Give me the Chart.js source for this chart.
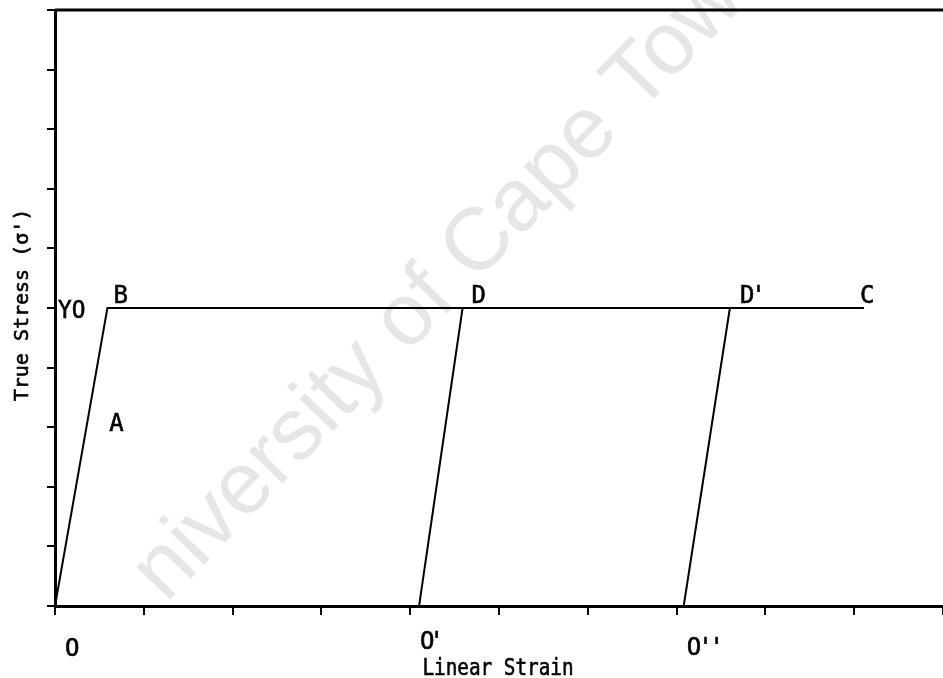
<!DOCTYPE html>
<html>
<head>
<meta charset="utf-8">
<script src="https://cdn.jsdelivr.net/npm/chart.js@4/dist/chart.umd.min.js"></script>
<style>
  html, body { margin: 0; padding: 0; background: #fff; }
  #wrap { width: 943px; height: 678px; }
</style>
</head>
<body>
<div id="wrap"><canvas id="c" width="943" height="678"></canvas></div>
<script>
// Elastic / perfectly-plastic stress–strain path with two elastic unloadings
const loadStrain = [0, 0.59, 9.11];
const loadStress = [0, 5, 5];
const unloadStrain1 = [4.10, 4.59];
const unloadStress1 = [0, 5];
const unloadStrain2 = [7.08, 7.60];
const unloadStress2 = [0, 5];

const strainRange = [0, 10];
const stressRange = [0, 10];

const xTitle = 'Linear Strain';
const yTitle = "True Stress (\u03C3')";
const yieldLabel = 'YO';
const pointNames = { elastic: 'A', yieldStart: 'B', end: 'C', top1: 'D', top2: "D'",
                     origin: 'O', base1: "O'", base2: "O''" };
const watermark = 'niversity of Cape Town';

const FONT = '"DejaVu Sans Mono", monospace';

function toPoints(xs, ys) { return xs.map((x, i) => ({ x: x, y: ys[i] })); }

const lineStyle = { borderColor: '#000', borderWidth: 2, pointRadius: 0, showLine: true, tension: 0, fill: false };

// plotter-style lettering: narrow monospace glyphs with a slight outline for weight
function letter(ctx, text, x, y, opts) {
  const o = Object.assign({ size: 24, squeeze: 1, align: 'left', rotate: 0, spacing: 0 }, opts || {});
  ctx.save();
  ctx.translate(x, y);
  if (o.rotate) ctx.rotate(o.rotate);
  ctx.scale(o.squeeze, 1);
  ctx.font = o.size + 'px ' + FONT;
  ctx.textAlign = o.align;
  ctx.textBaseline = 'alphabetic';
  ctx.letterSpacing = o.spacing + 'px';
  ctx.fillStyle = '#000';
  ctx.strokeStyle = '#000';
  ctx.lineWidth = 0.6;
  ctx.fillText(text, 0, 0);
  ctx.strokeText(text, 0, 0);
  ctx.restore();
}

// faint diagonal stamp behind the plot
const stampPlugin = {
  id: 'stamp',
  beforeDraw(chart) {
    const ctx = chart.ctx;
    ctx.save();
    ctx.translate(166, 604);
    ctx.rotate(-46 * Math.PI / 180);
    ctx.font = '88px "Liberation Sans", Arial, sans-serif';
    ctx.fillStyle = '#e6e6e6';
    ctx.textBaseline = 'alphabetic';
    ctx.fillText(watermark, 0, 0);
    ctx.restore();
  }
};

// top frame line, axis titles and point annotations
const annotatePlugin = {
  id: 'annotate',
  afterDraw(chart) {
    const ctx = chart.ctx;
    const xs = chart.scales.x, ys = chart.scales.y;
    const area = chart.chartArea;
    const px = v => xs.getPixelForValue(v);
    const py = v => ys.getPixelForValue(v);

    ctx.save();
    ctx.strokeStyle = '#000';
    ctx.lineWidth = 3;
    ctx.beginPath();
    ctx.moveTo(area.left, area.top);
    ctx.lineTo(chart.width, area.top);
    ctx.stroke();
    ctx.restore();

    // axis titles
    letter(ctx, xTitle, (area.left + area.right) / 2 - 1, area.bottom + 69, { size: 23, squeeze: 0.84, align: 'center' });
    letter(ctx, yTitle, 28, (area.top + area.bottom) / 2 - 3, { size: 20, align: 'center', rotate: -Math.PI / 2 });

    // point names
    const plateau = py(loadStress[1]);
    const base = py(0);
    letter(ctx, yieldLabel, area.left + 3, plateau + 10, { squeeze: 0.95 });
    letter(ctx, pointNames.yieldStart, px(loadStrain[1]) + 6, plateau - 5);
    letter(ctx, pointNames.top1, px(unloadStrain1[1]) + 9, plateau - 5);
    letter(ctx, pointNames.top2, px(unloadStrain2[1]) + 10, plateau - 5, { spacing: -3 });
    letter(ctx, pointNames.end, px(loadStrain[2]) - 4, plateau - 5);

    const midX = (px(loadStrain[0]) + px(loadStrain[1])) / 2;
    const midY = (py(loadStress[0]) + py(loadStress[1])) / 2;
    letter(ctx, pointNames.elastic, midX + 28, midY - 26);

    letter(ctx, pointNames.origin, px(loadStrain[0]) + 10, base + 50);
    letter(ctx, pointNames.base1, px(unloadStrain1[0]) + 1, base + 43, { spacing: -5 });
    letter(ctx, pointNames.base2, px(unloadStrain2[0]) + 3, base + 49, { spacing: -3 });
  }
};

new Chart(document.getElementById('c'), {
  type: 'scatter',
  data: {
    datasets: [
      Object.assign({ data: toPoints(loadStrain, loadStress) }, lineStyle),
      Object.assign({ data: toPoints(unloadStrain1, unloadStress1) }, lineStyle),
      Object.assign({ data: toPoints(unloadStrain2, unloadStress2) }, lineStyle)
    ]
  },
  options: {
    responsive: false,
    animation: false,
    events: [],
    layout: { padding: { top: 10, right: 0, left: 0, bottom: 0 } },
    plugins: { legend: { display: false }, tooltip: { enabled: false } },
    scales: {
      x: {
        type: 'linear',
        min: strainRange[0], max: strainRange[1],
        afterFit: s => { s.height = 72; },
        ticks: { display: false, stepSize: 1 },
        grid: { drawOnChartArea: false, drawTicks: true, tickLength: 9, color: '#000', lineWidth: 2 },
        border: { color: '#000', width: 3 },
        title: { display: false }
      },
      y: {
        type: 'linear',
        min: stressRange[0], max: stressRange[1],
        afterFit: s => { s.width = 55; },
        ticks: { display: false, stepSize: 1 },
        grid: { drawOnChartArea: false, drawTicks: true, tickLength: 8, color: '#000', lineWidth: 2 },
        border: { color: '#000', width: 3 },
        title: { display: false }
      }
    }
  },
  plugins: [stampPlugin, annotatePlugin]
});
</script>
</body>
</html>
